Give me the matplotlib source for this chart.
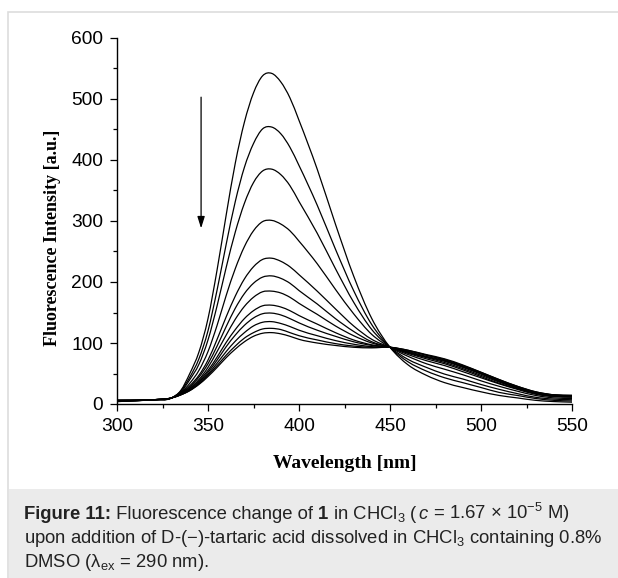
import numpy as np
import matplotlib
matplotlib.use('Agg')
import matplotlib.pyplot as plt
from matplotlib.patches import Rectangle, PathPatch
from matplotlib.path import Path
from matplotlib.ticker import MultipleLocator
from matplotlib.transforms import offset_copy

plt.rcParams['font.family'] = ['Liberation Sans', 'DejaVu Sans']
plt.rcParams['mathtext.fontset'] = 'custom'
plt.rcParams['mathtext.rm'] = 'Liberation Sans'
plt.rcParams['mathtext.it'] = 'Liberation Sans:italic'
plt.rcParams['mathtext.bf'] = 'Liberation Sans:bold'

# emission spectra, one list per titration step
wavelength = [300, 320, 330, 335, 340, 345, 350, 355, 360, 365, 370, 375, 380, 385, 390, 395,
              400, 410, 420, 430, 440, 450, 460, 470, 480, 490, 500, 510, 520, 530, 540, 550]

spec_01 = [4, 7, 10, 22, 50, 85, 140, 220, 310, 395, 462, 510, 538, 542, 528, 502,
           465, 385, 295, 210, 140, 93, 64, 47, 35, 27, 20, 14, 10, 6, 4, 3]
spec_02 = [4, 7, 10, 21, 44, 74, 120, 187, 262, 332, 388, 427, 451, 454, 443, 421,
           391, 326, 254, 186, 130, 93, 69, 54, 43, 35, 27, 19, 14, 9, 6, 5]
spec_03 = [5, 7, 10, 19, 40, 65, 105, 161, 224, 282, 329, 363, 382, 385, 376, 358,
           332, 280, 222, 167, 122, 93, 73, 60, 49, 41, 32, 24, 17, 11, 8, 7]
spec_04 = [5, 7, 10, 18, 34, 55, 86, 129, 178, 222, 258, 284, 299, 301, 295, 284,
           267, 230, 188, 148, 114, 93, 78, 66, 57, 48, 38, 29, 21, 14, 10, 9]
spec_05 = [5, 7, 10, 17, 30, 47, 72, 106, 143, 177, 205, 225, 237, 239, 234, 225,
           212, 185, 156, 128, 106, 93, 81, 71, 63, 53, 43, 33, 24, 16, 12, 11]
spec_06 = [5, 7, 10, 17, 28, 44, 66, 95, 127, 157, 181, 198, 208, 210, 206, 198,
           186, 164, 140, 119, 102, 93, 83, 74, 66, 56, 45, 34, 25, 17, 13, 12]
spec_07 = [5, 7, 10, 16, 26, 40, 60, 86, 113, 139, 160, 175, 184, 185, 182, 175,
           165, 147, 128, 112, 100, 93, 84, 76, 68, 58, 47, 36, 26, 18, 13, 12]
spec_08 = [6, 7, 10, 16, 25, 38, 55, 77, 101, 122, 140, 153, 161, 162, 159, 153,
           145, 131, 117, 105, 97, 93, 85, 77, 70, 60, 49, 37, 27, 19, 14, 13]
spec_09 = [6, 7, 10, 16, 24, 36, 52, 72, 94, 113, 129, 141, 148, 149, 146, 140,
           133, 121, 111, 102, 96, 93, 86, 78, 71, 61, 50, 38, 28, 19, 14, 13]
spec_10 = [6, 7, 10, 15, 23, 34, 49, 67, 86, 103, 117, 128, 134, 135, 132, 127,
           121, 112, 104, 98, 94, 93, 87, 80, 72, 62, 51, 39, 28, 19, 15, 14]
spec_11 = [6, 7, 10, 15, 22, 33, 47, 63, 80, 95, 108, 117, 123, 124, 122, 117,
           112, 105, 99, 95, 93, 93, 88, 80, 73, 63, 52, 40, 29, 20, 15, 14]
spec_12 = [6, 7, 10, 15, 22, 32, 45, 60, 76, 90, 102, 111, 116, 117, 115, 111,
           106, 100, 96, 93, 92, 93, 88, 81, 74, 64, 52, 40, 29, 20, 15, 14]

spectra = [spec_01, spec_02, spec_03, spec_04, spec_05, spec_06,
           spec_07, spec_08, spec_09, spec_10, spec_11, spec_12]


def spline_path(x, y):
    # smooth (Hermite / Bezier) connection through the points, like Origin's spline line
    x = np.asarray(x, float)
    y = np.asarray(y, float)
    m = np.gradient(y, x)
    verts = [(x[0], y[0])]
    codes = [Path.MOVETO]
    for i in range(len(x) - 1):
        h = x[i + 1] - x[i]
        verts += [(x[i] + h / 3, y[i] + m[i] * h / 3),
                  (x[i + 1] - h / 3, y[i + 1] - m[i + 1] * h / 3),
                  (x[i + 1], y[i + 1])]
        codes += [Path.CURVE4] * 3
    return Path(verts, codes)


fig = plt.figure(figsize=(6.18, 5.78), dpi=100)

# page frame + caption panel (behind the axes)
fig.patches.append(Rectangle((8 / 618, -0.01), 1.0, 1 - 11.5 / 578 + 0.01,
                             transform=fig.transFigure, facecolor='white',
                             edgecolor='#dddddd', lw=1.2, zorder=-10))
fig.patches.append(Rectangle((8.6 / 618, 0), 1.0, (578 - 489) / 578,
                             transform=fig.transFigure, facecolor='#ebebeb',
                             edgecolor='none', zorder=-9))

ax = fig.add_axes([117 / 618, (578 - 404) / 578, (572 - 117) / 618, (404 - 38) / 578])
for s in spectra:
    ax.add_patch(PathPatch(spline_path(wavelength, s), facecolor='none',
                           edgecolor='black', lw=0.9))

ax.set_xlim(300, 550)
ax.set_ylim(0, 600)
ax.xaxis.set_major_locator(MultipleLocator(50))
ax.xaxis.set_minor_locator(MultipleLocator(25))
ax.yaxis.set_major_locator(MultipleLocator(100))
ax.yaxis.set_minor_locator(MultipleLocator(50))
ax.spines['top'].set_visible(False)
ax.spines['right'].set_visible(False)
for sp in ['left', 'bottom']:
    ax.spines[sp].set_linewidth(1.0)
ax.tick_params(which='major', direction='out', length=5, width=0.9, labelsize=13.8, pad=5)
ax.tick_params(which='minor', direction='out', length=3.2, width=0.9)
ax.patch.set_alpha(0)

ax.annotate('', xy=(346.2, 288), xytext=(346.2, 503),
            arrowprops=dict(arrowstyle='-|>,head_length=0.7,head_width=0.22',
                            color='black', lw=0.9, shrinkA=0, shrinkB=0))

fig.text(344.5 / 618, 1 - 463 / 578, 'Wavelength [nm]', ha='center', va='center',
         family='Liberation Serif', weight='bold', fontsize=14)
fig.text(53 / 618, 1 - 238 / 578, 'Fluorescence Intensity [a.u.]', ha='center', va='center',
         rotation=90, family='Liberation Serif', weight='bold', fontsize=13)

# caption, drawn piece by piece so bold / italic runs sit inline
cap_lines = [
    [('Figure 11:', 'bold', 'normal'), (' Fluorescence change of ', 'normal', 'normal'),
     ('1', 'bold', 'normal'), (' in CHCl$_3$ (', 'normal', 'normal'), ('c', 'normal', 'italic'),
     (' = 1.67 × 10$^{-5}$ M)', 'normal', 'normal')],
    [('upon addition of D-(−)-tartaric acid dissolved in CHCl$_3$ containing 0.8%', 'normal', 'normal')],
    [('DMSO (λ$_{\\rm ex}$ = 290 nm).', 'normal', 'normal')],
]
fig.canvas.draw()
renderer = fig.canvas.get_renderer()
for i, pieces in enumerate(cap_lines):
    xoff = 0.0
    for txt, wt, st in pieces:
        t = fig.text(24 / 618, 1 - (514 + 24 * i) / 578, txt, ha='left', va='baseline',
                     fontsize=13.3, color='#222222', weight=wt, style=st,
                     transform=offset_copy(fig.transFigure, fig=fig, x=xoff * 72 / fig.dpi,
                                           y=-5 * 72 / fig.dpi, units='points'))
        xoff += t.get_window_extent(renderer).width

fig.savefig('out.png', dpi=100)
